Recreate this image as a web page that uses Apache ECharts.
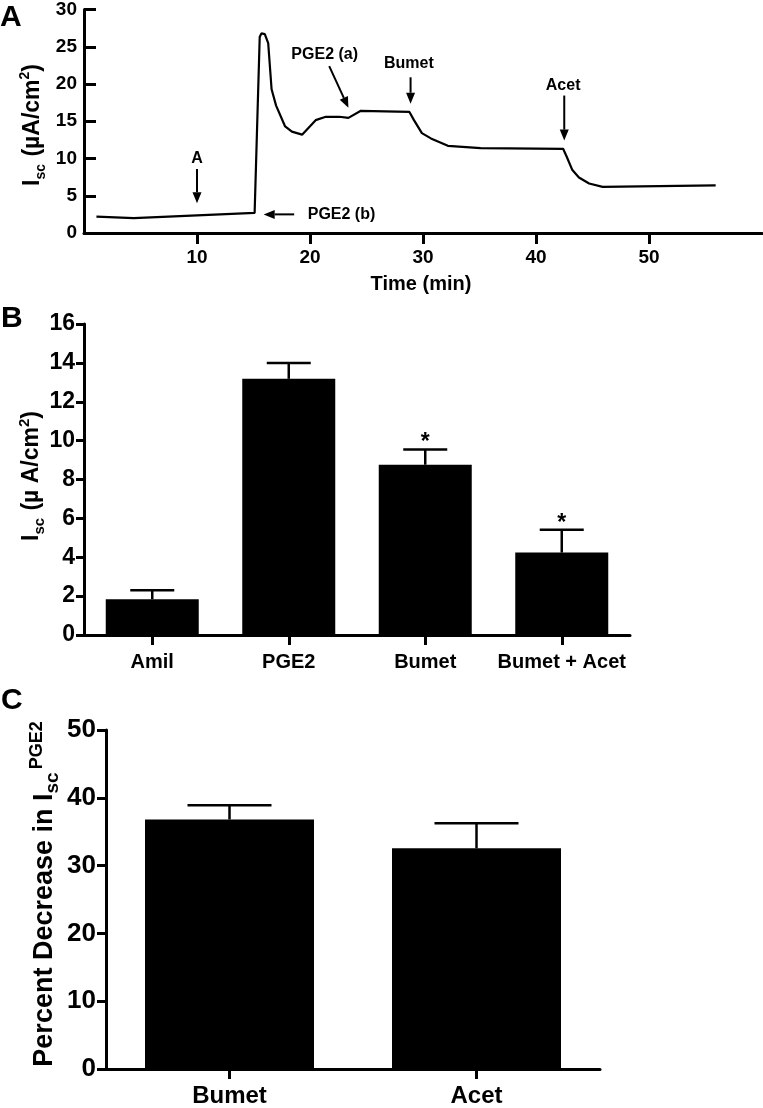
<!DOCTYPE html>
<html>
<head>
<meta charset="utf-8">
<script src="https://cdn.jsdelivr.net/npm/echarts@6/dist/echarts.min.js"></script>
<style>
html,body{margin:0;padding:0;background:#fff;}
#chart{width:763px;height:1108px;}
</style>
</head>
<body>
<div id="chart"></div>
<script>
// ---------- Panel A: Isc trace ----------
const timeA = [1.1, 4.4, 15.1, 15.55, 15.7, 16.0, 16.3, 16.6, 17.0, 17.8, 18.4, 19.3, 20.5, 21.4, 22.6, 23.4, 24.5, 28.8, 29.2, 29.9, 30.7, 32.2, 35.1, 42.4, 42.7, 43.2, 43.8, 44.7, 45.9, 55.9];
const iscA  = [2.2, 2.0, 2.7, 26.3, 26.8, 26.7, 25.5, 19.3, 17.1, 14.3, 13.6, 13.2, 15.15, 15.6, 15.6, 15.45, 16.4, 16.25, 15.15, 13.4, 12.7, 11.7, 11.4, 11.3, 10.3, 8.5, 7.45, 6.65, 6.2, 6.4];
const xTicksA = [10, 20, 30, 40, 50];
const yTicksA = [0, 5, 10, 15, 20, 25, 30];
// annotations (data units: time, Isc)
const annLabels = ['A', 'PGE2 (a)', 'Bumet', 'Acet', 'PGE2 (b)'];
const annFrom   = [[10, 8.6], [21.7, 22.4], [28.9, 20.9], [42.5, 18.45], [18.6, 2.5]];
const annTo     = [[10, 4.0], [23.4, 16.8], [28.9, 17.35], [42.5, 12.4], [15.9, 2.5]];
const annText   = [[10, 10.0], [21.3, 23.95], [28.75, 22.7], [42.4, 19.8], [19.8, 2.5]];

// ---------- Panel B ----------
const catsB = ['Amil', 'PGE2', 'Bumet', 'Bumet + Acet'];
const meanB = [1.84, 13.18, 8.76, 4.24];
const semB  = [0.46, 0.82, 0.78, 1.17];
const sigB  = ['', '', '*', '*'];

// ---------- Panel C ----------
const catsC = ['Bumet', 'Acet'];
const meanC = [36.8, 32.55];
const semC  = [2.1, 3.7];

const FONT = '"Liberation Sans", Arial, Helvetica, sans-serif';
const BLACK = '#000';

const chart = echarts.init(document.getElementById('chart'), null, {renderer: 'canvas'});

function errRender(capHalf) {
  return function (params, api) {
    const idx = api.value(0), m = api.value(1), e = api.value(2);
    const base = api.coord([idx, m]);
    const top = api.coord([idx, m + e]);
    const children = [
      {type: 'line', shape: {x1: base[0], y1: base[1], x2: top[0], y2: top[1]}, style: {stroke: BLACK, lineWidth: 2.5}},
      {type: 'line', shape: {x1: top[0] - capHalf, y1: top[1], x2: top[0] + capHalf, y2: top[1]}, style: {stroke: BLACK, lineWidth: 2.5}}
    ];
    if (api.value(3) === 1) {
      children.push({type: 'text', style: {text: '*', x: top[0], y: top[1] + 5, align: 'center', verticalAlign: 'bottom', font: 'bold 23px ' + FONT, fill: BLACK}});
    }
    return {type: 'group', children: children};
  };
}

function annRender(params, api) {
  const i = api.value(6);
  const p1 = api.coord([api.value(0), api.value(1)]);
  const p2 = api.coord([api.value(2), api.value(3)]);
  const pt = api.coord([api.value(4), api.value(5)]);
  const dx = p2[0] - p1[0], dy = p2[1] - p1[1];
  const len = Math.hypot(dx, dy) || 1;
  const ux = dx / len, uy = dy / len;
  const headL = 11, headW = 4.5;
  const bx = p2[0] - ux * headL, by = p2[1] - uy * headL;
  const nx = -uy, ny = ux;
  const align = pt[0] > p1[0] + 5 ? 'left' : 'center';
  return {type: 'group', children: [
    {type: 'line', shape: {x1: p1[0], y1: p1[1], x2: bx, y2: by}, style: {stroke: BLACK, lineWidth: 2}},
    {type: 'polygon', shape: {points: [[p2[0], p2[1]], [bx + nx * headW, by + ny * headW], [bx - nx * headW, by - ny * headW]]}, style: {fill: BLACK}},
    {type: 'text', style: {text: annLabels[i], x: pt[0], y: pt[1], align: align, verticalAlign: 'middle', font: 'bold 16px ' + FONT, fill: BLACK}}
  ]};
}

const axisLineStyle = {show: true, lineStyle: {color: BLACK, width: 3}};

const option = {
  animation: false,
  backgroundColor: '#fff',
  grid: [
    {left: 84, top: 6, width: 678, height: 227, containLabel: false},
    {left: 84, top: 324, width: 546, height: 311, containLabel: false},
    {left: 106, top: 730, width: 494, height: 342, containLabel: false}
  ],
  xAxis: [
    {gridIndex: 0, type: 'value', min: 0, max: 60, interval: 10,
     axisLine: axisLineStyle, splitLine: {show: false},
     axisTick: {show: true, inside: false, length: 11, lineStyle: {color: BLACK, width: 3}, customValues: xTicksA},
     axisLabel: {show: true, color: BLACK, fontFamily: FONT, fontWeight: 'bold', fontSize: 19, margin: 15, customValues: xTicksA}},
    {gridIndex: 1, type: 'category', data: catsB,
     axisLine: axisLineStyle, splitLine: {show: false},
     axisTick: {show: true, alignWithLabel: true, length: 10, lineStyle: {color: BLACK, width: 3}},
     axisLabel: {color: BLACK, fontFamily: FONT, fontWeight: 'bold', fontSize: 20, margin: 17, interval: 0}},
    {gridIndex: 2, type: 'category', data: catsC,
     axisLine: axisLineStyle, splitLine: {show: false},
     axisTick: {show: true, alignWithLabel: true, length: 10, lineStyle: {color: BLACK, width: 3}},
     axisLabel: {color: BLACK, fontFamily: FONT, fontWeight: 'bold', fontSize: 24, margin: 15, interval: 0}}
  ],
  yAxis: [
    {gridIndex: 0, type: 'value', min: 0, max: 30, interval: 5,
     axisLine: axisLineStyle, splitLine: {show: false},
     axisTick: {show: true, inside: true, length: 12, lineStyle: {color: BLACK, width: 3}, customValues: yTicksA},
     axisLabel: {color: BLACK, fontFamily: FONT, fontWeight: 'bold', fontSize: 19, margin: 7, customValues: yTicksA}},
    {gridIndex: 1, type: 'value', min: 0, max: 16, interval: 2,
     axisLine: axisLineStyle, splitLine: {show: false},
     axisTick: {show: true, length: 8, lineStyle: {color: BLACK, width: 3}},
     axisLabel: {color: BLACK, fontFamily: FONT, fontWeight: 'bold', fontSize: 23, margin: 9}},
    {gridIndex: 2, type: 'value', min: 0, max: 50, interval: 10,
     axisLine: axisLineStyle, splitLine: {show: false},
     axisTick: {show: true, length: 9, lineStyle: {color: BLACK, width: 3}},
     axisLabel: {color: BLACK, fontFamily: FONT, fontWeight: 'bold', fontSize: 26, margin: 10}}
  ],
  graphic: [
    {type: 'text', left: 0, top: 3, style: {text: 'A', font: 'bold 30px ' + FONT, fill: BLACK}},
    {type: 'text', left: 1, top: 304, style: {text: 'B', font: 'bold 30px ' + FONT, fill: BLACK}},
    {type: 'text', left: 1, top: 686, style: {text: 'C', font: 'bold 30px ' + FONT, fill: BLACK}},
    {type: 'text', x: 33, y: 125, rotation: Math.PI / 2,
     style: {text: '{b|I}{s|sc}{b| (µA/cm}{p|2}{b|)}', align: 'center', verticalAlign: 'middle',
       rich: {b: {font: 'bold 23px ' + FONT, fill: BLACK, lineHeight: 30, verticalAlign: 'middle'},
              s: {font: 'bold 14px ' + FONT, fill: BLACK, lineHeight: 30, verticalAlign: 'bottom', padding: [14, 1, 0, 0]},
              p: {font: 'bold 14px ' + FONT, fill: BLACK, lineHeight: 30, verticalAlign: 'top', padding: [0, 0, 12, 0]}}}},
    {type: 'text', x: 421, y: 284, style: {text: 'Time (min)', align: 'center', verticalAlign: 'middle', font: 'bold 20px ' + FONT, fill: BLACK}},
    {type: 'text', x: 32, y: 476, rotation: Math.PI / 2,
     style: {text: '{b|I}{s|sc}{b| (µ A/cm}{p|2}{b|)}', align: 'center', verticalAlign: 'middle',
       rich: {b: {font: 'bold 23px ' + FONT, fill: BLACK, lineHeight: 30, verticalAlign: 'middle'},
              s: {font: 'bold 15px ' + FONT, fill: BLACK, lineHeight: 30, verticalAlign: 'bottom', padding: [14, 1, 0, 0]},
              p: {font: 'bold 15px ' + FONT, fill: BLACK, lineHeight: 30, verticalAlign: 'top', padding: [0, 0, 12, 0]}}}},
    {type: 'text', x: 45, y: 894, rotation: Math.PI / 2,
     style: {text: '{b|Percent Decrease in I}{s|sc}{p|PGE2}', align: 'center', verticalAlign: 'middle',
       rich: {b: {font: 'bold 27px ' + FONT, fill: BLACK, lineHeight: 34, verticalAlign: 'middle'},
              s: {font: 'bold 19px ' + FONT, fill: BLACK, lineHeight: 34, verticalAlign: 'bottom', padding: [16, 3, 0, 0]},
              p: {font: 'bold 18px ' + FONT, fill: BLACK, lineHeight: 34, verticalAlign: 'top', padding: [0, 0, 24, 0]}}}}
  ],
  series: [
    {type: 'line', xAxisIndex: 0, yAxisIndex: 0, data: timeA.map((t, i) => [t, iscA[i]]),
     showSymbol: false, symbol: 'none', smooth: false, lineStyle: {color: BLACK, width: 2.2}},
    {type: 'custom', xAxisIndex: 0, yAxisIndex: 0, renderItem: annRender,
     data: annLabels.map((l, i) => [annFrom[i][0], annFrom[i][1], annTo[i][0], annTo[i][1], annText[i][0], annText[i][1], i]),
     encode: {x: [0, 2, 4], y: [1, 3, 5]}, z: 5},
    {type: 'bar', xAxisIndex: 1, yAxisIndex: 1, data: meanB, barWidth: 93, itemStyle: {color: BLACK}},
    {type: 'custom', xAxisIndex: 1, yAxisIndex: 1, renderItem: errRender(22),
     data: meanB.map((m, i) => [i, m, semB[i], sigB[i] === '*' ? 1 : 0]), encode: {x: 0, y: 1}, z: 5},
    {type: 'bar', xAxisIndex: 2, yAxisIndex: 2, data: meanC, barWidth: 169, itemStyle: {color: BLACK}},
    {type: 'custom', xAxisIndex: 2, yAxisIndex: 2, renderItem: errRender(42),
     data: meanC.map((m, i) => [i, m, semC[i], 0]), encode: {x: 0, y: 1}, z: 5}
  ]
};
chart.setOption(option);
</script>
</body>
</html>
